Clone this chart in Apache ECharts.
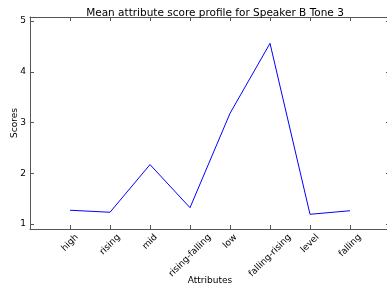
<!DOCTYPE html>
<html>
<head>
<meta charset="utf-8">
<script src="https://cdn.jsdelivr.net/npm/echarts@6/dist/echarts.min.js"></script>
<style>
  html, body { margin: 0; padding: 0; background: #fff; }
  #chart { width: 387px; height: 290px; }
</style>
</head>
<body>
<div id="chart"></div>
<script>
  // attribute categories along the x axis
  var categories = ['high', 'rising', 'mid', 'rising-falling', 'low', 'falling-rising', 'level', 'falling'];
  // mean score per attribute
  var scores = [1.27, 1.23, 2.17, 1.32, 3.18, 4.56, 1.19, 1.26];
  var yTicks = [1, 2, 3, 4, 5];

  var xTicks = categories.map(function (c, i) { return i; });
  var points = scores.map(function (v, i) { return [i, v]; });

  var font = 'DejaVu Sans';
  var labelSize = 9;

  // matplotlib centres a rotated tick label under its tick; pad each rich
  // label so its centre sits below the tick instead of its right end
  var ctx = document.createElement('canvas').getContext('2d');
  ctx.font = labelSize + 'px "' + font + '"';
  var rich = {};
  categories.forEach(function (c, i) {
    var w = ctx.measureText(c).width;
    var s = (w + 11) / 2;
    rich['c' + i] = { fontSize: labelSize, fontFamily: font, color: '#000', padding: [s, s, 0, 0] };
  });

  var frame = { show: true, onZero: false, lineStyle: { color: '#555', width: 1 } };
  var tick = { show: true, inside: true, length: 4, lineStyle: { color: '#555' }, customValues: xTicks };
  var ytick = { show: true, inside: true, length: 4, lineStyle: { color: '#555' }, customValues: yTicks };

  var chart = echarts.init(document.getElementById('chart'));
  var option = {
    animation: false,
    textStyle: { fontFamily: font },
    title: {
      text: 'Mean attribute score profile for Speaker B Tone 3',
      left: 210, top: 3, textAlign: 'center',
      textStyle: { fontFamily: font, fontSize: 10.5, fontWeight: 'normal', color: '#000' }
    },
    grid: { left: 30, top: 17, width: 360, height: 212, containLabel: false, outerBoundsMode: 'none' },
    xAxis: [{
      type: 'value', min: -1, max: 8,
      position: 'bottom',
      axisLine: frame, axisTick: tick, splitLine: { show: false },
      axisLabel: {
        customValues: xTicks, rotate: 45, margin: 3,
        align: 'center', verticalAlign: 'middle',
        formatter: function (v) { return categories[v] ? '{c' + v + '|' + categories[v] + '}' : ''; },
        rich: rich
      },
      name: 'Attributes', nameLocation: 'middle', nameGap: 47, nameMoveOverlap: false,
      nameTextStyle: { fontSize: 9, color: '#000' }
    }, {
      type: 'value', min: -1, max: 8, position: 'top',
      axisLine: frame, axisTick: tick, axisLabel: { show: false }, splitLine: { show: false }
    }],
    yAxis: [{
      type: 'value', min: 0.9, max: 5.08, position: 'left',
      axisLine: frame, axisTick: ytick, splitLine: { show: false },
      axisLabel: { customValues: yTicks, fontSize: 9, color: '#000', margin: 4 },
      name: 'Scores', nameLocation: 'middle', nameGap: 11, nameMoveOverlap: false,
      nameTextStyle: { fontSize: 9, color: '#000' }
    }, {
      type: 'value', min: 0.9, max: 5.08, position: 'right',
      axisLine: frame, axisTick: ytick, axisLabel: { show: false }, splitLine: { show: false }
    }],
    series: [{
      type: 'line',
      data: points,
      symbol: 'none',
      lineStyle: { color: '#0000ff', width: 1 }
    }]
  };
  chart.setOption(option);
</script>
</body>
</html>
